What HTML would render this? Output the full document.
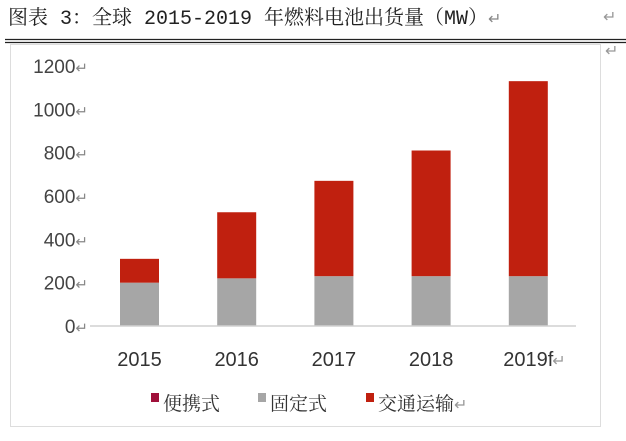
<!DOCTYPE html>
<html><head><meta charset="utf-8"><style>
body{margin:0;width:626px;height:436px;background:#fff;overflow:hidden;font-family:"Liberation Sans","Noto Sans CJK SC",sans-serif}
</style></head><body>
<svg width="626" height="436">
<text x="8" y="24" font-size="20" fill="#222" font-family="'Liberation Mono','Noto Serif CJK SC',monospace">图表 3：全球 2015-2019 年燃料电池出货量（MW）<tspan fill="#888" font-size="16">↵</tspan></text>
<text x="603" y="22" font-size="16" fill="#999">↵</text>
<line x1="5" y1="39.5" x2="626" y2="39.5" stroke="#222" stroke-width="1.2"/>
<line x1="5" y1="42.5" x2="626" y2="42.5" stroke="#222" stroke-width="1.2"/>
<rect x="10.5" y="44.5" width="590" height="382" fill="none" stroke="#ddd"/>
<text x="605" y="56" font-size="16" fill="#999">↵</text>
<g id="yaxis"></g>
<g id="bars"></g>
<line x1="90" y1="326" x2="576" y2="326" stroke="#d0d0d0" stroke-width="1.5"/>
<g id="xaxis"></g>
<g font-family="'Noto Serif CJK SC',serif" font-size="19" fill="#333">
<g><rect x="151" y="393" width="8" height="9" fill="#a0103a"/><text x="163" y="410">便携式</text></g>
<g><rect x="258" y="393" width="8" height="9" fill="#a6a6a6"/><text x="270" y="410">固定式</text></g>
<g><rect x="366" y="393" width="8" height="9" fill="#c0200f"/><text x="378" y="410">交通运输<tspan fill="#999" font-size="16">↵</tspan></text></g>
</g>
</svg>
<script>
const categories=["2015","2016","2017","2018","2019f"];
const stationary=[200,220,230,230,230];
const transport=[110,305,440,580,900];
const portable=[0,0,0,0,0];
const yTicks=[0,200,400,600,800,1000,1200];
const NS="http://www.w3.org/2000/svg";
const y0=326,yTop=66,yMax=1200;
const y=v=>y0-(v/yMax)*(y0-yTop);
const xc=i=>139.5+i*97.2;
const bw=39;
function mk(t,a,p){const e=document.createElementNS(NS,t);for(const k in a)e.setAttribute(k,a[k]);p.appendChild(e);return e;}
const ya=document.getElementById('yaxis');
yTicks.forEach(v=>{const t=mk('text',{x:88,y:y(v)+7,'text-anchor':'end','font-size':19,fill:'#444'},ya);


t.innerHTML=v+'<tspan fill="#888" font-size="15">↵</tspan>';});
const bg=document.getElementById('bars');
categories.forEach((c,i)=>{
const s=stationary[i],p=portable[i],tr=transport[i];
const r1=mk('rect',{x:xc(i)-bw/2,y:y(s),width:bw,height:y0-y(s),fill:'#a6a6a6'},bg);


const r2=mk('rect',{x:xc(i)-bw/2,y:y(s+p+tr),width:bw,height:y(s+p)-y(s+p+tr),fill:'#c0200f'},bg);


});
const xa=document.getElementById('xaxis');
categories.forEach((c,i)=>{const t=mk('text',{x:xc(i),y:366,'text-anchor':'middle','font-size':20,fill:'#333'},xa);


t.textContent=c;});
const last=mk('text',{x:xc(4)+24,y:366,'font-size':16,fill:'#999'},xa);


last.textContent='↵';
</script>
</body></html>
